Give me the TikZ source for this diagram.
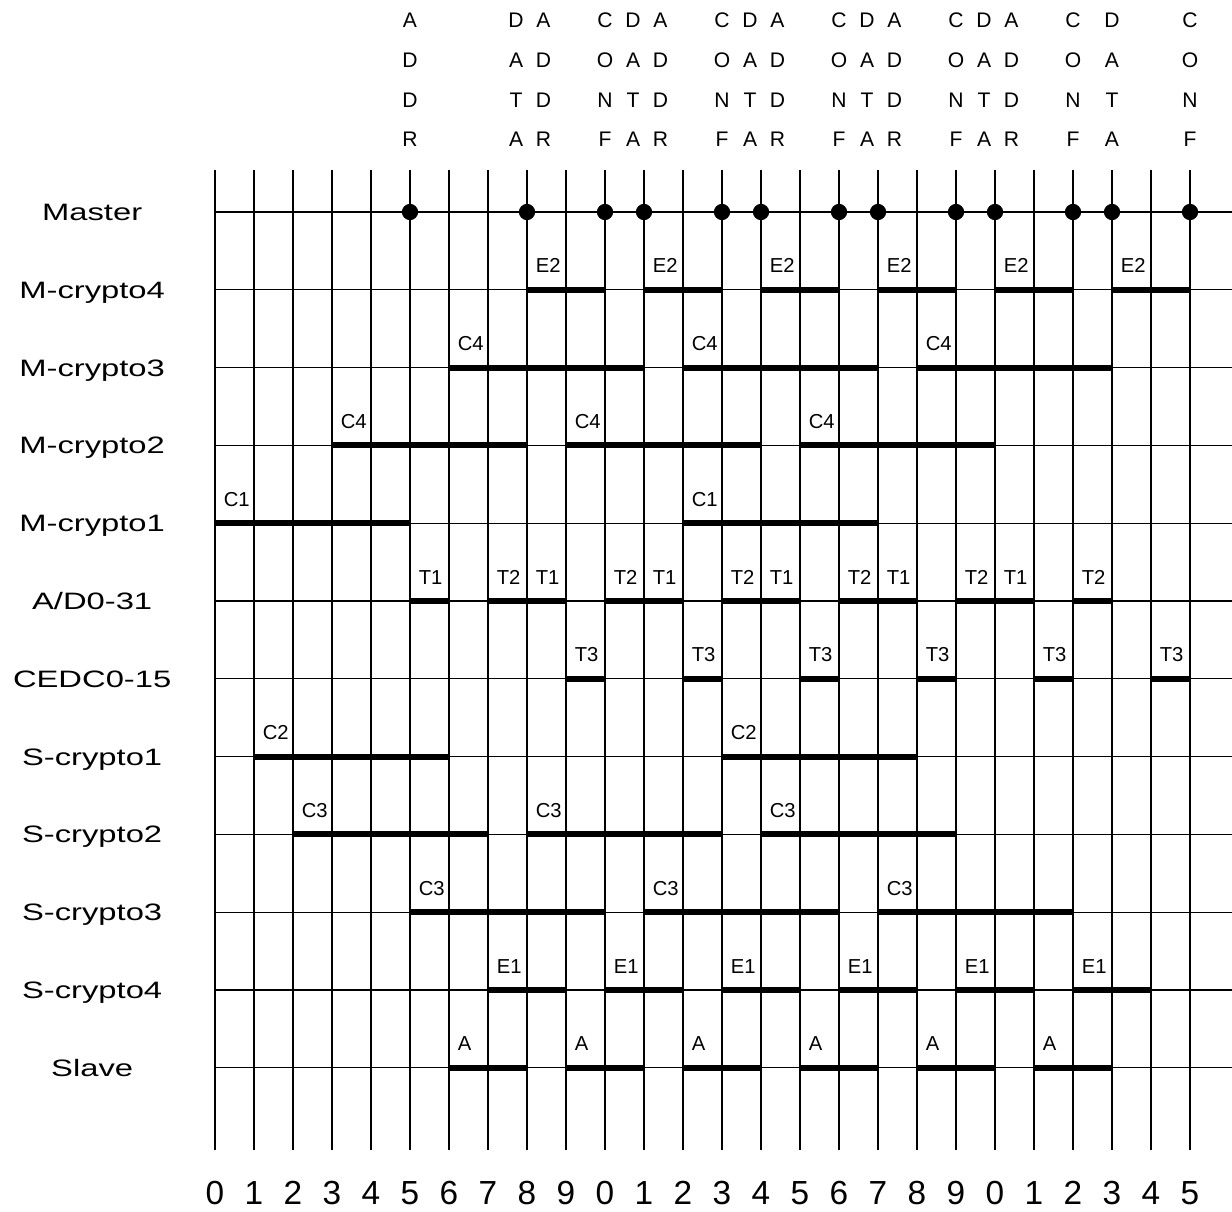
\documentclass[tikz,border=0pt]{standalone}
\usepackage{fontspec}
\setmainfont{Liberation Sans}
\newfontfamily\widefont[FakeStretch=1.38]{Liberation Sans}
\usetikzlibrary{positioning}

\tikzset{
  gridline/.style={line width=0.75pt},
  busybar/.style={line width=3.4pt},
  signame/.style={font=\widefont\fontsize{13.5}{15}\selectfont, anchor=base, yshift=-0.17cm},
  phaselabel/.style={font=\fontsize{11.5}{13}\selectfont, anchor=south west, inner sep=0pt, xshift=0.17cm, yshift=0.33cm},
  hdrletter/.style={font=\fontsize{12}{14}\selectfont, inner sep=0pt},
  ticklabel/.style={font=\fontsize{19}{21}\selectfont},
}

% row, start, end, label
\newcommand{\phasebar}[4]{%
  \draw[busybar] (#2,#1) -- (#3,#1);
  \node[phaselabel] (p-#1-#2) at (#2,#1) {#4};
}

\begin{document}
\begin{tikzpicture}[x=0.78cm,y=-1.556cm]
  \useasboundingbox (-5.5128,-2.7249) rectangle (26.0769,12.8406);

  % time grid
  \foreach \t in {0,...,25}
    \draw[gridline] (\t,-0.54) -- (\t,12.06);
  \foreach \r/\name in {0/Master,1/M-crypto4,2/M-crypto3,3/M-crypto2,4/M-crypto1,5/{A/D0-31},
                        6/CEDC0-15,7/S-crypto1,8/S-crypto2,9/S-crypto3,10/S-crypto4,11/Slave} {
    \draw[gridline] (0,\r) -- (26.08,\r);
    \node[signame] (sig\r) at (-3.15,\r) {\name};
  }

  % clock numbers
  \foreach \t in {0,...,25} {
    \pgfmathtruncatemacro\d{mod(\t,10)}
    \node[ticklabel] (tick\t) at (\t,12.61) {\d};
  }

  % bus cycle headings
  \foreach \x/\a/\b/\c/\d in {5/A/D/D/R, 7.72/D/A/T/A, 8.42/A/D/D/R,
      10/C/O/N/F, 10.72/D/A/T/A, 11.42/A/D/D/R,
      13/C/O/N/F, 13.72/D/A/T/A, 14.42/A/D/D/R,
      16/C/O/N/F, 16.72/D/A/T/A, 17.42/A/D/D/R,
      19/C/O/N/F, 19.72/D/A/T/A, 20.42/A/D/D/R,
      22/C/O/N/F, 23/D/A/T/A, 25/C/O/N/F} {
    \node[hdrletter] (h1-\x) at (\x,-2.468) {\a};
    \node[hdrletter] (h2-\x) at (\x,-1.954) {\b};
    \node[hdrletter] (h3-\x) at (\x,-1.440) {\c};
    \node[hdrletter] (h4-\x) at (\x,-0.934) {\d};
  }

  % M-crypto4 .. M-crypto1
  \foreach \a/\b in {8/10,11/13,14/16,17/19,20/22,23/25} \phasebar{1}{\a}{\b}{E2};
  \foreach \a/\b in {6/11,12/17,18/23} \phasebar{2}{\a}{\b}{C4};
  \foreach \a/\b in {3/8,9/14,15/20} \phasebar{3}{\a}{\b}{C4};
  \foreach \a/\b in {0/5,12/17} \phasebar{4}{\a}{\b}{C1};

  % bus and EDC
  \foreach \a/\l in {5/T1,7/T2,8/T1,10/T2,11/T1,13/T2,14/T1,16/T2,17/T1,19/T2,20/T1,22/T2}
    \phasebar{5}{\a}{\a+1}{\l};
  \foreach \a in {9,12,15,18,21,24} \phasebar{6}{\a}{\a+1}{T3};

  % S-crypto1 .. S-crypto4, slave
  \foreach \a/\b in {1/6,13/18} \phasebar{7}{\a}{\b}{C2};
  \foreach \a/\b in {2/7,8/13,14/19} \phasebar{8}{\a}{\b}{C3};
  \foreach \a/\b in {5/10,11/16,17/22} \phasebar{9}{\a}{\b}{C3};
  \foreach \a in {7,10,13,16,19,22} \phasebar{10}{\a}{\a+2}{E1};
  \foreach \a in {6,9,12,15,18,21} \phasebar{11}{\a}{\a+2}{A};

  % master events
  \foreach \t in {5,8,10,11,13,14,16,17,19,20,22,23,25}
    \filldraw (\t,0) circle (0.155cm);
\end{tikzpicture}
\end{document}
